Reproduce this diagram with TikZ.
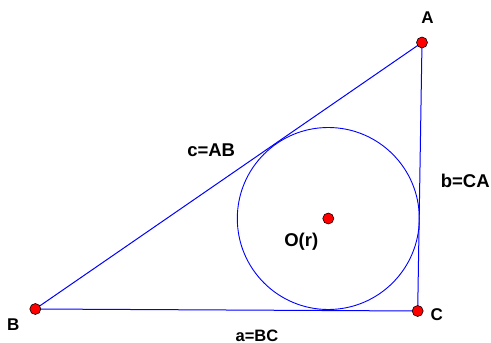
\documentclass[tikz,border=0pt]{standalone}
\usepackage{fontspec}
\setmainfont{Liberation Sans}
\begin{document}
\begin{tikzpicture}[x=1pt,y=-1pt,
  side/.style={draw=blue,line width=1pt},
  pt/.style={circle,fill=red,draw=black,line width=0.6pt,inner sep=0pt,minimum size=11pt},
  lbl/.style={anchor=base,inner sep=0pt,font=\bfseries\fontsize{17}{17}\selectfont},
  big/.style={font=\bfseries\fontsize{18.5}{18.5}\selectfont}]
\useasboundingbox (0,0) rectangle (491,343);
\coordinate (A) at (422,42.5);
\coordinate (B) at (35.3,309);
\coordinate (C) at (417.7,311);
\coordinate (O) at (328.3,218.5);
\draw[side] (A) -- (B) -- (C) -- cycle;
\draw[draw=blue,line width=0.9pt] (O) circle[radius=91];
\node[pt] (pA) at (A) {};
\node[pt] (pB) at (B) {};
\node[pt] (pC) at (C) {};
\node[pt] (pO) at (O) {};
\node[lbl] (lA) at (427.5,23.3) {A};
\node[lbl] (lB) at (13.3,330.7) {B};
\node[lbl] (lC) at (436.7,320) {C};
\node[lbl,big] (lc) at (211.2,156) {c=AB};
\node[lbl,big] (lb) at (465.3,187.7) {b=CA};
\node[lbl,font=\bfseries\fontsize{16.5}{16.5}\selectfont] (la) at (257,341) {a=BC};
\node[lbl,big] (lO) at (301.3,246.8) {O(r)};
\end{tikzpicture}
\end{document}
